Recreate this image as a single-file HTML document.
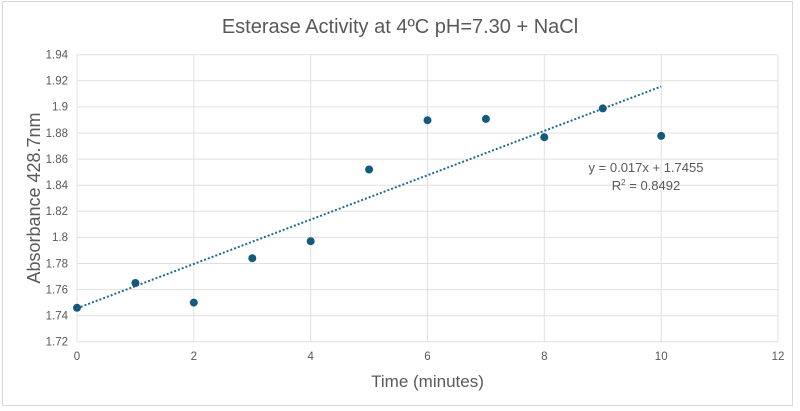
<!DOCTYPE html>
<html><head><style>
html,body{margin:0;padding:0;background:#fff;}
svg{display:block;font-family:"Liberation Sans",sans-serif;}
</style></head><body>
<svg width="800" height="411" viewBox="0 0 800 411" xmlns="http://www.w3.org/2000/svg">
<rect x="0" y="0" width="800" height="411" fill="#fff"/>
<rect x="2.5" y="1.5" width="790" height="404" fill="none" stroke="#d9d9d9" stroke-width="1"/>
<text x="400" y="33" font-size="20" fill="#595959" text-anchor="middle">Esterase Activity at 4ºC  pH=7.30 + NaCl</text>
<g stroke="#e0e0e0" stroke-width="1">
<line x1="77" y1="54.7" x2="778" y2="54.7"/>
<line x1="77" y1="80.8" x2="778" y2="80.8"/>
<line x1="77" y1="106.9" x2="778" y2="106.9"/>
<line x1="77" y1="133" x2="778" y2="133"/>
<line x1="77" y1="159.1" x2="778" y2="159.1"/>
<line x1="77" y1="185.2" x2="778" y2="185.2"/>
<line x1="77" y1="211.3" x2="778" y2="211.3"/>
<line x1="77" y1="237.4" x2="778" y2="237.4"/>
<line x1="77" y1="263.5" x2="778" y2="263.5"/>
<line x1="77" y1="289.6" x2="778" y2="289.6"/>
<line x1="77" y1="315.7" x2="778" y2="315.7"/>
<line x1="77" y1="341.7" x2="778" y2="341.7"/>
<line x1="77" y1="54.7" x2="77" y2="341.7"/>
<line x1="193.8" y1="54.7" x2="193.8" y2="341.7"/>
<line x1="310.7" y1="54.7" x2="310.7" y2="341.7"/>
<line x1="427.5" y1="54.7" x2="427.5" y2="341.7"/>
<line x1="544.3" y1="54.7" x2="544.3" y2="341.7"/>
<line x1="661.2" y1="54.7" x2="661.2" y2="341.7"/>
<line x1="778" y1="54.7" x2="778" y2="341.7"/>
</g>
<g font-size="11.5" fill="#595959" text-anchor="end">
<text x="68" y="58.5">1.94</text><text x="68" y="84.6">1.92</text><text x="68" y="110.7">1.9</text>
<text x="68" y="136.8">1.88</text><text x="68" y="162.9">1.86</text><text x="68" y="189">1.84</text>
<text x="68" y="215.1">1.82</text><text x="68" y="241.2">1.8</text><text x="68" y="267.3">1.78</text>
<text x="68" y="293.4">1.76</text><text x="68" y="319.5">1.74</text><text x="68" y="345.5">1.72</text>
</g>
<g font-size="11.5" fill="#595959" text-anchor="middle">
<text x="77" y="360">0</text><text x="193.8" y="360">2</text><text x="310.7" y="360">4</text>
<text x="427.5" y="360">6</text><text x="544.3" y="360">8</text><text x="661.2" y="360">10</text><text x="778" y="360">12</text>
</g>
<text x="427.5" y="387" font-size="17" fill="#595959" text-anchor="middle">Time (minutes)</text>
<text transform="translate(40,198) rotate(-90)" font-size="18" fill="#595959" text-anchor="middle">Absorbance 428.7nm</text>
<line x1="77" y1="308.3" x2="661.2" y2="86.5" stroke="#1f6b94" stroke-width="2" stroke-dasharray="2,2"/>
<g fill="#145a7c">
<circle cx="77" cy="307.8" r="4"/>
<circle cx="135.4" cy="283" r="4"/>
<circle cx="193.8" cy="302.6" r="4"/>
<circle cx="252.3" cy="258.2" r="4"/>
<circle cx="310.7" cy="241.2" r="4"/>
<circle cx="369.1" cy="169.5" r="4"/>
<circle cx="427.5" cy="120.2" r="4"/>
<circle cx="485.9" cy="118.9" r="4"/>
<circle cx="544.3" cy="137.2" r="4"/>
<circle cx="602.8" cy="108.4" r="4"/>
<circle cx="661.2" cy="135.9" r="4"/>
</g>
<text x="646" y="172" font-size="13" fill="#595959" text-anchor="middle">y = 0.017x + 1.7455</text>
<text x="646" y="190" font-size="13" fill="#595959" text-anchor="middle">R<tspan font-size="8" dy="-5">2</tspan><tspan dy="5"> = 0.8492</tspan></text>
</svg>
</body></html>
